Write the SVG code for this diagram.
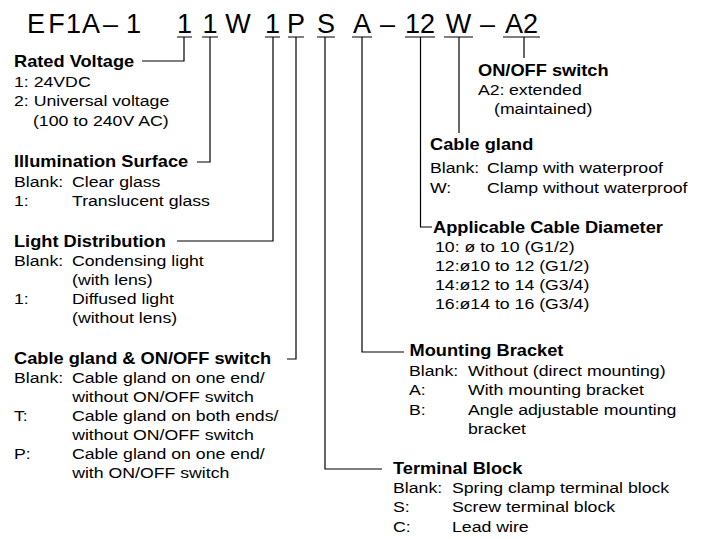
<svg xmlns="http://www.w3.org/2000/svg" width="707" height="539" viewBox="0 0 707 539">
<style>
text{font-family:"Liberation Sans",Arial,Helvetica,sans-serif;fill:#000}
.t{font-size:27px;text-anchor:middle}
.h{font-size:16px;font-weight:bold;transform-box:fill-box;transform-origin:0 0;transform:scaleX(1.14)}
.b{font-size:15px;transform-box:fill-box;transform-origin:0 0;transform:scaleX(1.18)}
.ln{stroke:#000;stroke-width:1.2;fill:none}
</style>
<rect width="707" height="539" fill="#fff"/>
<g id="code">
<text class="t" x="36" y="33">E</text>
<text class="t" x="56.5" y="33">F</text>
<text class="t" x="73.5" y="33">1</text>
<text class="t" x="91" y="33">A</text>
<text class="t" x="110.5" y="33">–</text>
<text class="t" x="133.5" y="33">1</text>
<text class="t" x="184.5" y="33">1</text>
<text class="t" x="210" y="33">1</text>
<text class="t" x="238" y="33">W</text>
<text class="t" x="272.5" y="33">1</text>
<text class="t" x="296" y="33">P</text>
<text class="t" x="326" y="33">S</text>
<text class="t" x="362" y="33">A</text>
<text class="t" x="387.5" y="33">–</text>
<text class="t" x="420" y="33">12</text>
<text class="t" x="458.5" y="33">W</text>
<text class="t" x="487.5" y="33">–</text>
<text class="t" x="521.5" y="33">A2</text>
<path class="ln" d="M177 37H192M202 37H218M265 37H280M288 37H304M317 37H335M352 37H372M405 37H435M444 37H473M503 37H540"/>
</g>
<g id="connectors">
<path class="ln" d="M184 37V61H142"/>
<path class="ln" d="M210 37V162H197"/>
<path class="ln" d="M273 37V241H177"/>
<path class="ln" d="M296 37V359H287"/>
<path class="ln" d="M325 37V469H382"/>
<path class="ln" d="M362 37V352H404"/>
<path class="ln" d="M420.5 37V227H432"/>
<path class="ln" d="M459 37V133"/>
<path class="ln" d="M524 37V58"/>
</g>
<g id="rated-voltage">
<text class="h" x="14" y="67">Rated Voltage</text>
<text class="b" x="14" y="87">1: 24VDC</text>
<text class="b" x="14" y="106.5">2: Universal voltage</text>
<text class="b" x="33" y="126">(100 to 240V AC)</text>
</g>
<g id="illumination-surface">
<text class="h" x="14" y="167">Illumination Surface</text>
<text class="b" x="14" y="187">Blank:</text>
<text class="b" x="72" y="187">Clear glass</text>
<text class="b" x="14" y="206.5">1:</text>
<text class="b" x="72" y="206.5">Translucent glass</text>
</g>
<g id="light-distribution">
<text class="h" x="14" y="247">Light Distribution</text>
<text class="b" x="14" y="266">Blank:</text>
<text class="b" x="72" y="266">Condensing light</text>
<text class="b" x="72" y="285">(with lens)</text>
<text class="b" x="14" y="304">1:</text>
<text class="b" x="72" y="304">Diffused light</text>
<text class="b" x="72" y="323">(without lens)</text>
</g>
<g id="cable-gland-switch">
<text class="h" x="14" y="364">Cable gland &amp; ON/OFF switch</text>
<text class="b" x="14" y="383">Blank:</text>
<text class="b" x="72" y="383">Cable gland on one end/</text>
<text class="b" x="72" y="402">without ON/OFF switch</text>
<text class="b" x="14" y="421">T:</text>
<text class="b" x="72" y="421">Cable gland on both ends/</text>
<text class="b" x="72" y="440">without ON/OFF switch</text>
<text class="b" x="14" y="459">P:</text>
<text class="b" x="72" y="459">Cable gland on one end/</text>
<text class="b" x="72" y="478">with ON/OFF switch</text>
</g>
<g id="terminal-block">
<text class="h" x="393" y="474">Terminal Block</text>
<text class="b" x="393" y="493">Blank:</text>
<text class="b" x="452" y="493">Spring clamp terminal block</text>
<text class="b" x="393" y="512.5">S:</text>
<text class="b" x="452" y="512.5">Screw terminal block</text>
<text class="b" x="393" y="532">C:</text>
<text class="b" x="452" y="532">Lead wire</text>
</g>
<g id="mounting-bracket">
<text class="h" x="409.5" y="356">Mounting Bracket</text>
<text class="b" x="409" y="376">Blank:</text>
<text class="b" x="468" y="376">Without (direct mounting)</text>
<text class="b" x="409" y="395.5">A:</text>
<text class="b" x="468" y="395.5">With mounting bracket</text>
<text class="b" x="409" y="415">B:</text>
<text class="b" x="468" y="415">Angle adjustable mounting</text>
<text class="b" x="468" y="434.5">bracket</text>
</g>
<g id="cable-diameter">
<text class="h" x="433" y="233">Applicable Cable Diameter</text>
<text class="b" x="435" y="252">10: ø to 10 (G1/2)</text>
<text class="b" x="435" y="271">12:ø10 to 12 (G1/2)</text>
<text class="b" x="435" y="290">14:ø12 to 14 (G3/4)</text>
<text class="b" x="435" y="309">16:ø14 to 16 (G3/4)</text>
</g>
<g id="cable-gland">
<text class="h" x="430" y="150.5">Cable gland</text>
<text class="b" x="430" y="173">Blank:</text>
<text class="b" x="487" y="173">Clamp with waterproof</text>
<text class="b" x="430" y="193">W:</text>
<text class="b" x="487" y="193">Clamp without waterproof</text>
</g>
<g id="onoff-switch">
<text class="h" x="478" y="76">ON/OFF switch</text>
<text class="b" x="478" y="95">A2:</text>
<text class="b" x="509" y="95">extended</text>
<text class="b" x="494" y="114">(maintained)</text>
</g>
</svg>
